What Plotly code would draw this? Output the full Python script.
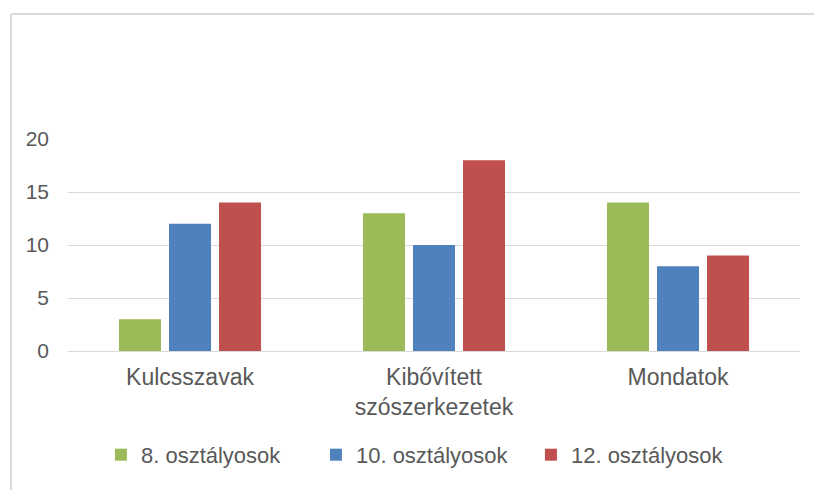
import plotly.graph_objects as go

categories = ["Kulcsszavak", "Kibővített<br>szószerkezetek", "Mondatok"]
series_names = ["8. osztályosok", "10. osztályosok", "12. osztályosok"]
grade8 = [3, 13, 14]
grade10 = [12, 10, 8]
grade12 = [14, 18, 9]
colors = ["#9BBB59", "#4F81BD", "#C0504D"]
y_ticks = [0, 5, 10, 15, 20]

fig = go.Figure()
for name, vals, col in zip(series_names, [grade8, grade10, grade12], colors):
    fig.add_trace(go.Bar(x=categories, y=vals, name=name, marker_color=col,
                         marker_line_width=0))

fam = "Liberation Sans, Arial, sans-serif"
txt = "#595959"
fig.update_layout(
    width=822, height=490,
    margin=dict(l=60, r=30, t=131, b=147),
    paper_bgcolor="white", plot_bgcolor="white",
    barmode="group", bargap=0.385, bargroupgap=0.16,
    font=dict(family=fam, size=22, color=txt),
    showlegend=True,
    legend=dict(orientation="h", x=0.045, xanchor="left", y=-0.49, yanchor="middle",
                font=dict(family=fam, size=22, color=txt),
                entrywidth=170, entrywidthmode="pixels", tracegroupgap=0),
    xaxis=dict(showgrid=False, showline=False, ticks="", ticklabelstandoff=10,
               tickfont=dict(family=fam, size=23, color=txt)),
    yaxis=dict(range=[0, 20], tickvals=y_ticks, showgrid=True, gridcolor="#D9D9D9",
               zeroline=True, zerolinecolor="#D9D9D9", zerolinewidth=1,
               ticks="", ticklabelstandoff=18,
               tickfont=dict(family=fam, size=21, color=txt)),
    shapes=[
        dict(type="line", xref="paper", yref="paper",
             x0=-0.0779, x1=1.03, y0=1.5896, y1=1.5896,
             line=dict(color="#D9D9D9", width=2)),
        dict(type="line", xref="paper", yref="paper",
             x0=-0.0779, x1=-0.0779, y0=1.5896, y1=-0.70,
             line=dict(color="#D9D9D9", width=2)),
    ],
)

fig.write_html("out.html")
